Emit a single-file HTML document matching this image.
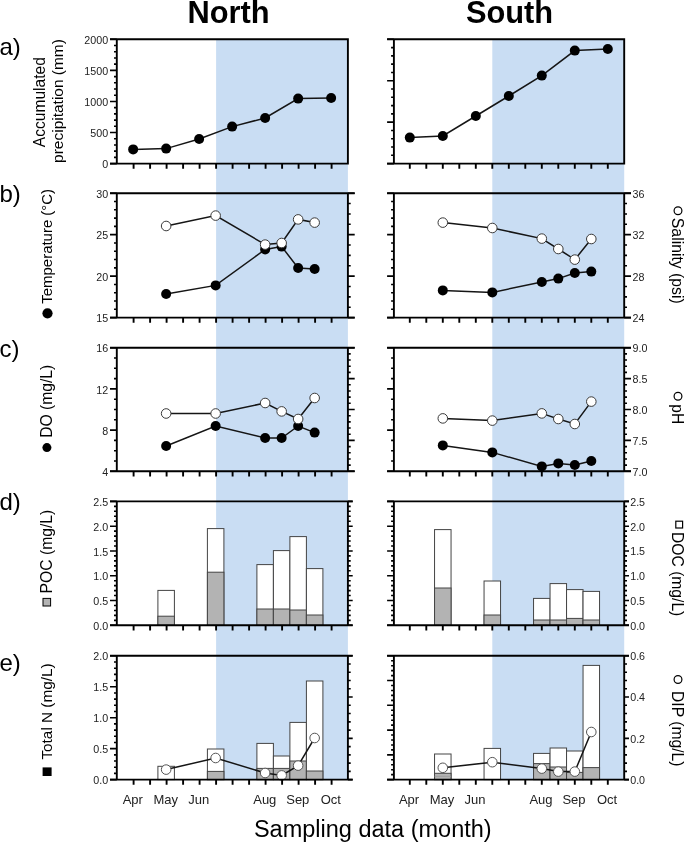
<!DOCTYPE html>
<html><head><meta charset="utf-8"><style>
html,body{margin:0;padding:0;background:#fff;}
svg{display:block;}
text{font-family:"Liberation Sans", sans-serif;}
svg{will-change:transform;}
.tl{font-size:10.7px;fill:#222;}
.ml{font-size:13px;fill:#222;}
.ti{font-size:30.8px;font-weight:bold;fill:#000;}
.pl{font-size:24px;fill:#000;}
.xt{font-size:23.5px;fill:#000;}
.at{font-size:15.3px;fill:#000;}
</style></head><body>
<svg width="685" height="844" viewBox="0 0 685 844">
<rect width="685" height="844" fill="#fff"/>
<rect x="216.1" y="39.3" width="131.8" height="740.3" fill="#c9ddf3"/>
<rect x="492.3" y="39.3" width="131.9" height="740.3" fill="#c9ddf3"/>
<path d="M116.8 39.3h-6.8M116.8 45.52h-2.8M116.8 51.73h-2.8M116.8 57.94h-2.8M116.8 64.16h-2.8M116.8 70.38h-6.8M116.8 76.59h-2.8M116.8 82.81h-2.8M116.8 89.02h-2.8M116.8 95.23h-2.8M116.8 101.45h-6.8M116.8 107.66h-2.8M116.8 113.88h-2.8M116.8 120.09h-2.8M116.8 126.31h-2.8M116.8 132.52h-6.8M116.8 138.74h-2.8M116.8 144.95h-2.8M116.8 151.17h-2.8M116.8 157.38h-2.8M116.8 163.6h-6.8" stroke="#000" stroke-width="1.6" fill="none"/>
<text x="108.1" y="43.9" text-anchor="end" class="tl">2000</text>
<text x="108.1" y="74.97" text-anchor="end" class="tl">1500</text>
<text x="108.1" y="106.05" text-anchor="end" class="tl">1000</text>
<text x="108.1" y="137.12" text-anchor="end" class="tl">500</text>
<text x="108.1" y="168.2" text-anchor="end" class="tl">0</text>
<path d="M110 39.3H347.9M110 163.6H347.9M116.8 38.35V164.55M347.9 38.35V164.55M133.6 163.6v5.2M150.1 163.6v5.2M166.6 163.6v5.2M183.1 163.6v5.2M199.6 163.6v5.2M216.1 163.6v5.2M232.6 163.6v5.2M249.1 163.6v5.2M265.6 163.6v5.2M282.1 163.6v5.2M298.6 163.6v5.2M315.1 163.6v5.2M331.6 163.6v5.2" stroke="#000" stroke-width="1.9" fill="none"/>
<path d="M393.9 39.3h-6.8M393.9 47.59h-2.8M393.9 55.87h-2.8M393.9 64.16h-2.8M393.9 72.45h-2.8M393.9 80.73h-6.8M393.9 89.02h-2.8M393.9 97.31h-2.8M393.9 105.59h-2.8M393.9 113.88h-2.8M393.9 122.17h-6.8M393.9 130.45h-2.8M393.9 138.74h-2.8M393.9 147.03h-2.8M393.9 155.31h-2.8M393.9 163.6h-6.8" stroke="#000" stroke-width="1.6" fill="none"/>
<path d="M387.1 39.3H624.2M387.1 163.6H624.2M393.9 38.35V164.55M624.2 38.35V164.55M409.8 163.6v5.2M426.3 163.6v5.2M442.8 163.6v5.2M459.3 163.6v5.2M475.8 163.6v5.2M492.3 163.6v5.2M508.8 163.6v5.2M525.3 163.6v5.2M541.8 163.6v5.2M558.3 163.6v5.2M574.8 163.6v5.2M591.3 163.6v5.2M607.8 163.6v5.2" stroke="#000" stroke-width="1.9" fill="none"/>
<polyline points="133.15,149.4 166.15,148.6 199.15,139 232.15,126.6 265.15,118 298.15,98.6 331.15,98" fill="none" stroke="#151515" stroke-width="1.5"/>
<circle cx="133.15" cy="149.4" r="5.0" fill="#000"/>
<circle cx="166.15" cy="148.6" r="5.0" fill="#000"/>
<circle cx="199.15" cy="139" r="5.0" fill="#000"/>
<circle cx="232.15" cy="126.6" r="5.0" fill="#000"/>
<circle cx="265.15" cy="118" r="5.0" fill="#000"/>
<circle cx="298.15" cy="98.6" r="5.0" fill="#000"/>
<circle cx="331.15" cy="98" r="5.0" fill="#000"/>
<polyline points="409.8,137.6 442.8,136 475.8,116 508.8,96 541.8,75.6 574.8,50.6 607.8,49" fill="none" stroke="#151515" stroke-width="1.5"/>
<circle cx="409.8" cy="137.6" r="5.0" fill="#000"/>
<circle cx="442.8" cy="136" r="5.0" fill="#000"/>
<circle cx="475.8" cy="116" r="5.0" fill="#000"/>
<circle cx="508.8" cy="96" r="5.0" fill="#000"/>
<circle cx="541.8" cy="75.6" r="5.0" fill="#000"/>
<circle cx="574.8" cy="50.6" r="5.0" fill="#000"/>
<circle cx="607.8" cy="49" r="5.0" fill="#000"/>
<path d="M116.8 193.2h-6.8M116.8 201.49h-2.8M116.8 209.79h-2.8M116.8 218.08h-2.8M116.8 226.37h-2.8M116.8 234.67h-6.8M116.8 242.96h-2.8M116.8 251.25h-2.8M116.8 259.55h-2.8M116.8 267.84h-2.8M116.8 276.13h-6.8M116.8 284.43h-2.8M116.8 292.72h-2.8M116.8 301.01h-2.8M116.8 309.31h-2.8M116.8 317.6h-6.8" stroke="#000" stroke-width="1.6" fill="none"/>
<text x="108.1" y="197.8" text-anchor="end" class="tl">30</text>
<text x="108.1" y="239.27" text-anchor="end" class="tl">25</text>
<text x="108.1" y="280.73" text-anchor="end" class="tl">20</text>
<text x="108.1" y="322.2" text-anchor="end" class="tl">15</text>
<path d="M347.9 193.2h6.8M347.9 203.57h2.8M347.9 213.93h2.8M347.9 224.3h2.8M347.9 234.67h6.8M347.9 245.03h2.8M347.9 255.4h2.8M347.9 265.77h2.8M347.9 276.13h6.8M347.9 286.5h2.8M347.9 296.87h2.8M347.9 307.23h2.8M347.9 317.6h6.8" stroke="#000" stroke-width="1.6" fill="none"/>
<path d="M110 193.2H354.7M110 317.6H354.7M116.8 192.25V318.55M347.9 192.25V318.55M133.6 317.6v5.2M150.1 317.6v5.2M166.6 317.6v5.2M183.1 317.6v5.2M199.6 317.6v5.2M216.1 317.6v5.2M232.6 317.6v5.2M249.1 317.6v5.2M265.6 317.6v5.2M282.1 317.6v5.2M298.6 317.6v5.2M315.1 317.6v5.2M331.6 317.6v5.2" stroke="#000" stroke-width="1.9" fill="none"/>
<path d="M393.9 193.2h-6.8M393.9 201.49h-2.8M393.9 209.79h-2.8M393.9 218.08h-2.8M393.9 226.37h-2.8M393.9 234.67h-6.8M393.9 242.96h-2.8M393.9 251.25h-2.8M393.9 259.55h-2.8M393.9 267.84h-2.8M393.9 276.13h-6.8M393.9 284.43h-2.8M393.9 292.72h-2.8M393.9 301.01h-2.8M393.9 309.31h-2.8M393.9 317.6h-6.8" stroke="#000" stroke-width="1.6" fill="none"/>
<path d="M624.2 193.2h6.8M624.2 203.57h2.8M624.2 213.93h2.8M624.2 224.3h2.8M624.2 234.67h6.8M624.2 245.03h2.8M624.2 255.4h2.8M624.2 265.77h2.8M624.2 276.13h6.8M624.2 286.5h2.8M624.2 296.87h2.8M624.2 307.23h2.8M624.2 317.6h6.8" stroke="#000" stroke-width="1.6" fill="none"/>
<text x="632.5" y="197.6" class="tl">36</text>
<text x="632.5" y="239.07" class="tl">32</text>
<text x="632.5" y="280.53" class="tl">28</text>
<text x="632.5" y="322" class="tl">24</text>
<path d="M387.1 193.2H631M387.1 317.6H631M393.9 192.25V318.55M624.2 192.25V318.55M409.8 317.6v5.2M426.3 317.6v5.2M442.8 317.6v5.2M459.3 317.6v5.2M475.8 317.6v5.2M492.3 317.6v5.2M508.8 317.6v5.2M525.3 317.6v5.2M541.8 317.6v5.2M558.3 317.6v5.2M574.8 317.6v5.2M591.3 317.6v5.2M607.8 317.6v5.2" stroke="#000" stroke-width="1.9" fill="none"/>
<polyline points="166.15,294 215.65,285.4 265.15,249.4 281.65,246.6 298.15,268 314.65,269" fill="none" stroke="#151515" stroke-width="1.5"/>
<polyline points="166.15,226 215.65,215.6 265.15,244.6 281.65,243 298.15,219.4 314.65,222.6" fill="none" stroke="#151515" stroke-width="1.5"/>
<circle cx="166.15" cy="294" r="5.0" fill="#000"/>
<circle cx="215.65" cy="285.4" r="5.0" fill="#000"/>
<circle cx="265.15" cy="249.4" r="5.0" fill="#000"/>
<circle cx="281.65" cy="246.6" r="5.0" fill="#000"/>
<circle cx="298.15" cy="268" r="5.0" fill="#000"/>
<circle cx="314.65" cy="269" r="5.0" fill="#000"/>
<circle cx="166.15" cy="226" r="4.8" fill="#fff" stroke="#3a3a3a" stroke-width="1"/>
<circle cx="215.65" cy="215.6" r="4.8" fill="#fff" stroke="#3a3a3a" stroke-width="1"/>
<circle cx="265.15" cy="244.6" r="4.8" fill="#fff" stroke="#3a3a3a" stroke-width="1"/>
<circle cx="281.65" cy="243" r="4.8" fill="#fff" stroke="#3a3a3a" stroke-width="1"/>
<circle cx="298.15" cy="219.4" r="4.8" fill="#fff" stroke="#3a3a3a" stroke-width="1"/>
<circle cx="314.65" cy="222.6" r="4.8" fill="#fff" stroke="#3a3a3a" stroke-width="1"/>
<polyline points="442.8,290.4 492.3,292.4 541.8,282 558.3,278.6 574.8,273 591.3,271.6" fill="none" stroke="#151515" stroke-width="1.5"/>
<polyline points="442.8,222.6 492.3,228 541.8,238.6 558.3,249 574.8,259.6 591.3,239" fill="none" stroke="#151515" stroke-width="1.5"/>
<circle cx="442.8" cy="290.4" r="5.0" fill="#000"/>
<circle cx="492.3" cy="292.4" r="5.0" fill="#000"/>
<circle cx="541.8" cy="282" r="5.0" fill="#000"/>
<circle cx="558.3" cy="278.6" r="5.0" fill="#000"/>
<circle cx="574.8" cy="273" r="5.0" fill="#000"/>
<circle cx="591.3" cy="271.6" r="5.0" fill="#000"/>
<circle cx="442.8" cy="222.6" r="4.8" fill="#fff" stroke="#3a3a3a" stroke-width="1"/>
<circle cx="492.3" cy="228" r="4.8" fill="#fff" stroke="#3a3a3a" stroke-width="1"/>
<circle cx="541.8" cy="238.6" r="4.8" fill="#fff" stroke="#3a3a3a" stroke-width="1"/>
<circle cx="558.3" cy="249" r="4.8" fill="#fff" stroke="#3a3a3a" stroke-width="1"/>
<circle cx="574.8" cy="259.6" r="4.8" fill="#fff" stroke="#3a3a3a" stroke-width="1"/>
<circle cx="591.3" cy="239" r="4.8" fill="#fff" stroke="#3a3a3a" stroke-width="1"/>
<path d="M116.8 347.7h-6.8M116.8 358h-2.8M116.8 368.3h-2.8M116.8 378.6h-2.8M116.8 388.9h-6.8M116.8 399.2h-2.8M116.8 409.5h-2.8M116.8 419.8h-2.8M116.8 430.1h-6.8M116.8 440.4h-2.8M116.8 450.7h-2.8M116.8 461h-2.8M116.8 471.3h-6.8" stroke="#000" stroke-width="1.6" fill="none"/>
<text x="108.1" y="352.3" text-anchor="end" class="tl">16</text>
<text x="108.1" y="393.5" text-anchor="end" class="tl">12</text>
<text x="108.1" y="434.7" text-anchor="end" class="tl">8</text>
<text x="108.1" y="475.9" text-anchor="end" class="tl">4</text>
<path d="M347.9 347.7h6.8M347.9 353.88h2.8M347.9 360.06h2.8M347.9 366.24h2.8M347.9 372.42h2.8M347.9 378.6h6.8M347.9 384.78h2.8M347.9 390.96h2.8M347.9 397.14h2.8M347.9 403.32h2.8M347.9 409.5h6.8M347.9 415.68h2.8M347.9 421.86h2.8M347.9 428.04h2.8M347.9 434.22h2.8M347.9 440.4h6.8M347.9 446.58h2.8M347.9 452.76h2.8M347.9 458.94h2.8M347.9 465.12h2.8M347.9 471.3h6.8" stroke="#000" stroke-width="1.6" fill="none"/>
<path d="M110 347.7H354.7M110 471.3H354.7M116.8 346.75V472.25M347.9 346.75V472.25M133.6 471.3v5.2M150.1 471.3v5.2M166.6 471.3v5.2M183.1 471.3v5.2M199.6 471.3v5.2M216.1 471.3v5.2M232.6 471.3v5.2M249.1 471.3v5.2M265.6 471.3v5.2M282.1 471.3v5.2M298.6 471.3v5.2M315.1 471.3v5.2M331.6 471.3v5.2" stroke="#000" stroke-width="1.9" fill="none"/>
<path d="M393.9 347.7h-6.8M393.9 358h-2.8M393.9 368.3h-2.8M393.9 378.6h-2.8M393.9 388.9h-6.8M393.9 399.2h-2.8M393.9 409.5h-2.8M393.9 419.8h-2.8M393.9 430.1h-6.8M393.9 440.4h-2.8M393.9 450.7h-2.8M393.9 461h-2.8M393.9 471.3h-6.8" stroke="#000" stroke-width="1.6" fill="none"/>
<path d="M624.2 347.7h6.8M624.2 353.88h2.8M624.2 360.06h2.8M624.2 366.24h2.8M624.2 372.42h2.8M624.2 378.6h6.8M624.2 384.78h2.8M624.2 390.96h2.8M624.2 397.14h2.8M624.2 403.32h2.8M624.2 409.5h6.8M624.2 415.68h2.8M624.2 421.86h2.8M624.2 428.04h2.8M624.2 434.22h2.8M624.2 440.4h6.8M624.2 446.58h2.8M624.2 452.76h2.8M624.2 458.94h2.8M624.2 465.12h2.8M624.2 471.3h6.8" stroke="#000" stroke-width="1.6" fill="none"/>
<text x="632.5" y="352.1" class="tl">9.0</text>
<text x="632.5" y="383" class="tl">8.5</text>
<text x="632.5" y="413.9" class="tl">8.0</text>
<text x="632.5" y="444.8" class="tl">7.5</text>
<text x="632.5" y="475.7" class="tl">7.0</text>
<path d="M387.1 347.7H631M387.1 471.3H631M393.9 346.75V472.25M624.2 346.75V472.25M409.8 471.3v5.2M426.3 471.3v5.2M442.8 471.3v5.2M459.3 471.3v5.2M475.8 471.3v5.2M492.3 471.3v5.2M508.8 471.3v5.2M525.3 471.3v5.2M541.8 471.3v5.2M558.3 471.3v5.2M574.8 471.3v5.2M591.3 471.3v5.2M607.8 471.3v5.2" stroke="#000" stroke-width="1.9" fill="none"/>
<polyline points="166.15,446 215.65,426 265.15,438 281.65,438 298.15,426 314.65,432.6" fill="none" stroke="#151515" stroke-width="1.5"/>
<polyline points="166.15,413.5 215.65,413.5 265.15,403 281.65,411.4 298.15,419 314.65,398" fill="none" stroke="#151515" stroke-width="1.5"/>
<circle cx="166.15" cy="446" r="5.0" fill="#000"/>
<circle cx="215.65" cy="426" r="5.0" fill="#000"/>
<circle cx="265.15" cy="438" r="5.0" fill="#000"/>
<circle cx="281.65" cy="438" r="5.0" fill="#000"/>
<circle cx="298.15" cy="426" r="5.0" fill="#000"/>
<circle cx="314.65" cy="432.6" r="5.0" fill="#000"/>
<circle cx="166.15" cy="413.5" r="4.8" fill="#fff" stroke="#3a3a3a" stroke-width="1"/>
<circle cx="215.65" cy="413.5" r="4.8" fill="#fff" stroke="#3a3a3a" stroke-width="1"/>
<circle cx="265.15" cy="403" r="4.8" fill="#fff" stroke="#3a3a3a" stroke-width="1"/>
<circle cx="281.65" cy="411.4" r="4.8" fill="#fff" stroke="#3a3a3a" stroke-width="1"/>
<circle cx="298.15" cy="419" r="4.8" fill="#fff" stroke="#3a3a3a" stroke-width="1"/>
<circle cx="314.65" cy="398" r="4.8" fill="#fff" stroke="#3a3a3a" stroke-width="1"/>
<polyline points="442.8,445.4 492.3,452.4 541.8,466.4 558.3,463.4 574.8,465 591.3,461" fill="none" stroke="#151515" stroke-width="1.5"/>
<polyline points="442.8,418.4 492.3,420.6 541.8,413.4 558.3,419 574.8,424 591.3,401.6" fill="none" stroke="#151515" stroke-width="1.5"/>
<circle cx="442.8" cy="445.4" r="5.0" fill="#000"/>
<circle cx="492.3" cy="452.4" r="5.0" fill="#000"/>
<circle cx="541.8" cy="466.4" r="5.0" fill="#000"/>
<circle cx="558.3" cy="463.4" r="5.0" fill="#000"/>
<circle cx="574.8" cy="465" r="5.0" fill="#000"/>
<circle cx="591.3" cy="461" r="5.0" fill="#000"/>
<circle cx="442.8" cy="418.4" r="4.8" fill="#fff" stroke="#3a3a3a" stroke-width="1"/>
<circle cx="492.3" cy="420.6" r="4.8" fill="#fff" stroke="#3a3a3a" stroke-width="1"/>
<circle cx="541.8" cy="413.4" r="4.8" fill="#fff" stroke="#3a3a3a" stroke-width="1"/>
<circle cx="558.3" cy="419" r="4.8" fill="#fff" stroke="#3a3a3a" stroke-width="1"/>
<circle cx="574.8" cy="424" r="4.8" fill="#fff" stroke="#3a3a3a" stroke-width="1"/>
<circle cx="591.3" cy="401.6" r="4.8" fill="#fff" stroke="#3a3a3a" stroke-width="1"/>
<rect x="157.9" y="590.4" width="16.5" height="34.9" fill="#fff" stroke="#444" stroke-width="1"/>
<rect x="157.9" y="616.2" width="16.5" height="9.1" fill="#b3b3b3" stroke="#444" stroke-width="1"/>
<rect x="207.4" y="528.6" width="16.5" height="96.7" fill="#fff" stroke="#444" stroke-width="1"/>
<rect x="207.4" y="572.2" width="16.5" height="53.1" fill="#b3b3b3" stroke="#444" stroke-width="1"/>
<rect x="256.9" y="564.6" width="16.5" height="60.7" fill="#fff" stroke="#444" stroke-width="1"/>
<rect x="256.9" y="609" width="16.5" height="16.3" fill="#b3b3b3" stroke="#444" stroke-width="1"/>
<rect x="273.4" y="550.6" width="16.5" height="74.7" fill="#fff" stroke="#444" stroke-width="1"/>
<rect x="273.4" y="609" width="16.5" height="16.3" fill="#b3b3b3" stroke="#444" stroke-width="1"/>
<rect x="289.9" y="536.6" width="16.5" height="88.7" fill="#fff" stroke="#444" stroke-width="1"/>
<rect x="289.9" y="610" width="16.5" height="15.3" fill="#b3b3b3" stroke="#444" stroke-width="1"/>
<rect x="306.4" y="568.6" width="16.5" height="56.7" fill="#fff" stroke="#444" stroke-width="1"/>
<rect x="306.4" y="615" width="16.5" height="10.3" fill="#b3b3b3" stroke="#444" stroke-width="1"/>
<rect x="434.55" y="529.6" width="16.5" height="95.7" fill="#fff" stroke="#444" stroke-width="1"/>
<rect x="434.55" y="588" width="16.5" height="37.3" fill="#b3b3b3" stroke="#444" stroke-width="1"/>
<rect x="484.05" y="581" width="16.5" height="44.3" fill="#fff" stroke="#444" stroke-width="1"/>
<rect x="484.05" y="615" width="16.5" height="10.3" fill="#b3b3b3" stroke="#444" stroke-width="1"/>
<rect x="533.55" y="598.4" width="16.5" height="26.9" fill="#fff" stroke="#444" stroke-width="1"/>
<rect x="533.55" y="620" width="16.5" height="5.3" fill="#b3b3b3" stroke="#444" stroke-width="1"/>
<rect x="550.05" y="583.6" width="16.5" height="41.7" fill="#fff" stroke="#444" stroke-width="1"/>
<rect x="550.05" y="620" width="16.5" height="5.3" fill="#b3b3b3" stroke="#444" stroke-width="1"/>
<rect x="566.55" y="589.6" width="16.5" height="35.7" fill="#fff" stroke="#444" stroke-width="1"/>
<rect x="566.55" y="618.4" width="16.5" height="6.9" fill="#b3b3b3" stroke="#444" stroke-width="1"/>
<rect x="583.05" y="591.4" width="16.5" height="33.9" fill="#fff" stroke="#444" stroke-width="1"/>
<rect x="583.05" y="620" width="16.5" height="5.3" fill="#b3b3b3" stroke="#444" stroke-width="1"/>
<path d="M116.8 501.4h-6.8M116.8 506.36h-2.8M116.8 511.31h-2.8M116.8 516.27h-2.8M116.8 521.22h-2.8M116.8 526.18h-6.8M116.8 531.14h-2.8M116.8 536.09h-2.8M116.8 541.05h-2.8M116.8 546h-2.8M116.8 550.96h-6.8M116.8 555.92h-2.8M116.8 560.87h-2.8M116.8 565.83h-2.8M116.8 570.78h-2.8M116.8 575.74h-6.8M116.8 580.7h-2.8M116.8 585.65h-2.8M116.8 590.61h-2.8M116.8 595.56h-2.8M116.8 600.52h-6.8M116.8 605.48h-2.8M116.8 610.43h-2.8M116.8 615.39h-2.8M116.8 620.34h-2.8M116.8 625.3h-6.8" stroke="#000" stroke-width="1.6" fill="none"/>
<text x="108.1" y="506" text-anchor="end" class="tl">2.5</text>
<text x="108.1" y="530.78" text-anchor="end" class="tl">2.0</text>
<text x="108.1" y="555.56" text-anchor="end" class="tl">1.5</text>
<text x="108.1" y="580.34" text-anchor="end" class="tl">1.0</text>
<text x="108.1" y="605.12" text-anchor="end" class="tl">0.5</text>
<text x="108.1" y="629.9" text-anchor="end" class="tl">0.0</text>
<path d="M347.9 501.4h4.8M347.9 506.36h2.8M347.9 511.31h2.8M347.9 516.27h2.8M347.9 521.22h2.8M347.9 526.18h4.8M347.9 531.14h2.8M347.9 536.09h2.8M347.9 541.05h2.8M347.9 546h2.8M347.9 550.96h4.8M347.9 555.92h2.8M347.9 560.87h2.8M347.9 565.83h2.8M347.9 570.78h2.8M347.9 575.74h4.8M347.9 580.7h2.8M347.9 585.65h2.8M347.9 590.61h2.8M347.9 595.56h2.8M347.9 600.52h4.8M347.9 605.48h2.8M347.9 610.43h2.8M347.9 615.39h2.8M347.9 620.34h2.8M347.9 625.3h4.8" stroke="#000" stroke-width="1.6" fill="none"/>
<path d="M110 501.4H352.7M110 625.3H352.7M116.8 500.45V626.25M347.9 500.45V626.25M133.6 625.3v5.2M150.1 625.3v5.2M166.6 625.3v5.2M183.1 625.3v5.2M199.6 625.3v5.2M216.1 625.3v5.2M232.6 625.3v5.2M249.1 625.3v5.2M265.6 625.3v5.2M282.1 625.3v5.2M298.6 625.3v5.2M315.1 625.3v5.2M331.6 625.3v5.2" stroke="#000" stroke-width="1.9" fill="none"/>
<path d="M393.9 501.4h-6.8M393.9 506.36h-2.8M393.9 511.31h-2.8M393.9 516.27h-2.8M393.9 521.22h-2.8M393.9 526.18h-6.8M393.9 531.14h-2.8M393.9 536.09h-2.8M393.9 541.05h-2.8M393.9 546h-2.8M393.9 550.96h-6.8M393.9 555.92h-2.8M393.9 560.87h-2.8M393.9 565.83h-2.8M393.9 570.78h-2.8M393.9 575.74h-6.8M393.9 580.7h-2.8M393.9 585.65h-2.8M393.9 590.61h-2.8M393.9 595.56h-2.8M393.9 600.52h-6.8M393.9 605.48h-2.8M393.9 610.43h-2.8M393.9 615.39h-2.8M393.9 620.34h-2.8M393.9 625.3h-6.8" stroke="#000" stroke-width="1.6" fill="none"/>
<path d="M624.2 501.4h4.8M624.2 506.36h2.8M624.2 511.31h2.8M624.2 516.27h2.8M624.2 521.22h2.8M624.2 526.18h4.8M624.2 531.14h2.8M624.2 536.09h2.8M624.2 541.05h2.8M624.2 546h2.8M624.2 550.96h4.8M624.2 555.92h2.8M624.2 560.87h2.8M624.2 565.83h2.8M624.2 570.78h2.8M624.2 575.74h4.8M624.2 580.7h2.8M624.2 585.65h2.8M624.2 590.61h2.8M624.2 595.56h2.8M624.2 600.52h4.8M624.2 605.48h2.8M624.2 610.43h2.8M624.2 615.39h2.8M624.2 620.34h2.8M624.2 625.3h4.8" stroke="#000" stroke-width="1.6" fill="none"/>
<text x="630.2" y="505.8" class="tl">2.5</text>
<text x="630.2" y="530.58" class="tl">2.0</text>
<text x="630.2" y="555.36" class="tl">1.5</text>
<text x="630.2" y="580.14" class="tl">1.0</text>
<text x="630.2" y="604.92" class="tl">0.5</text>
<text x="630.2" y="629.7" class="tl">0.0</text>
<path d="M387.1 501.4H629M387.1 625.3H629M393.9 500.45V626.25M624.2 500.45V626.25M409.8 625.3v5.2M426.3 625.3v5.2M442.8 625.3v5.2M459.3 625.3v5.2M475.8 625.3v5.2M492.3 625.3v5.2M508.8 625.3v5.2M525.3 625.3v5.2M541.8 625.3v5.2M558.3 625.3v5.2M574.8 625.3v5.2M591.3 625.3v5.2M607.8 625.3v5.2" stroke="#000" stroke-width="1.9" fill="none"/>
<rect x="157.9" y="766.3" width="16.5" height="13.3" fill="#fff" stroke="#444" stroke-width="1"/>
<rect x="207.4" y="749" width="16.5" height="30.6" fill="#fff" stroke="#444" stroke-width="1"/>
<rect x="207.4" y="771.4" width="16.5" height="8.2" fill="#b3b3b3" stroke="#444" stroke-width="1"/>
<rect x="256.9" y="743.4" width="16.5" height="36.2" fill="#fff" stroke="#444" stroke-width="1"/>
<rect x="256.9" y="768.4" width="16.5" height="11.2" fill="#b3b3b3" stroke="#444" stroke-width="1"/>
<rect x="273.4" y="756" width="16.5" height="23.6" fill="#fff" stroke="#444" stroke-width="1"/>
<rect x="273.4" y="768.4" width="16.5" height="11.2" fill="#b3b3b3" stroke="#444" stroke-width="1"/>
<rect x="289.9" y="722.4" width="16.5" height="57.2" fill="#fff" stroke="#444" stroke-width="1"/>
<rect x="289.9" y="761" width="16.5" height="18.6" fill="#b3b3b3" stroke="#444" stroke-width="1"/>
<rect x="306.4" y="681" width="16.5" height="98.6" fill="#fff" stroke="#444" stroke-width="1"/>
<rect x="306.4" y="771" width="16.5" height="8.6" fill="#b3b3b3" stroke="#444" stroke-width="1"/>
<polyline points="166.15,769.6 215.65,758 265.15,773 281.65,775.4 298.15,765.6 314.65,738" fill="none" stroke="#151515" stroke-width="1.5"/>
<circle cx="166.15" cy="769.6" r="4.8" fill="#fff" stroke="#555" stroke-width="1"/>
<circle cx="215.65" cy="758" r="4.8" fill="#fff" stroke="#555" stroke-width="1"/>
<circle cx="265.15" cy="773" r="4.8" fill="#fff" stroke="#555" stroke-width="1"/>
<circle cx="281.65" cy="775.4" r="4.8" fill="#fff" stroke="#555" stroke-width="1"/>
<circle cx="298.15" cy="765.6" r="4.8" fill="#fff" stroke="#555" stroke-width="1"/>
<circle cx="314.65" cy="738" r="4.8" fill="#fff" stroke="#555" stroke-width="1"/>
<rect x="434.55" y="754" width="16.5" height="25.6" fill="#fff" stroke="#444" stroke-width="1"/>
<rect x="434.55" y="773.3" width="16.5" height="6.3" fill="#b3b3b3" stroke="#444" stroke-width="1"/>
<rect x="484.05" y="748.4" width="16.5" height="31.2" fill="#fff" stroke="#444" stroke-width="1"/>
<rect x="533.55" y="753.4" width="16.5" height="26.2" fill="#fff" stroke="#444" stroke-width="1"/>
<rect x="533.55" y="763.6" width="16.5" height="16" fill="#b3b3b3" stroke="#444" stroke-width="1"/>
<rect x="550.05" y="748" width="16.5" height="31.6" fill="#fff" stroke="#444" stroke-width="1"/>
<rect x="550.05" y="767" width="16.5" height="12.6" fill="#b3b3b3" stroke="#444" stroke-width="1"/>
<rect x="566.55" y="751" width="16.5" height="28.6" fill="#fff" stroke="#444" stroke-width="1"/>
<rect x="566.55" y="772.4" width="16.5" height="7.2" fill="#b3b3b3" stroke="#444" stroke-width="1"/>
<rect x="583.05" y="665.4" width="16.5" height="114.2" fill="#fff" stroke="#444" stroke-width="1"/>
<rect x="583.05" y="767.6" width="16.5" height="12" fill="#b3b3b3" stroke="#444" stroke-width="1"/>
<line x1="434.55" x2="451.05" y1="776.3" y2="776.3" stroke="#999" stroke-width="0.8"/>
<polyline points="442.8,767.8 492.3,762.2 541.8,768.6 558.3,771.6 574.8,771.6 591.3,732" fill="none" stroke="#151515" stroke-width="1.5"/>
<circle cx="442.8" cy="767.8" r="4.8" fill="#fff" stroke="#555" stroke-width="1"/>
<circle cx="492.3" cy="762.2" r="4.8" fill="#fff" stroke="#555" stroke-width="1"/>
<circle cx="541.8" cy="768.6" r="4.8" fill="#fff" stroke="#555" stroke-width="1"/>
<circle cx="558.3" cy="771.6" r="4.8" fill="#fff" stroke="#555" stroke-width="1"/>
<circle cx="574.8" cy="771.6" r="4.8" fill="#fff" stroke="#555" stroke-width="1"/>
<circle cx="591.3" cy="732" r="4.8" fill="#fff" stroke="#555" stroke-width="1"/>
<path d="M116.8 655.8h-6.8M116.8 661.99h-2.8M116.8 668.18h-2.8M116.8 674.37h-2.8M116.8 680.56h-2.8M116.8 686.75h-6.8M116.8 692.94h-2.8M116.8 699.13h-2.8M116.8 705.32h-2.8M116.8 711.51h-2.8M116.8 717.7h-6.8M116.8 723.89h-2.8M116.8 730.08h-2.8M116.8 736.27h-2.8M116.8 742.46h-2.8M116.8 748.65h-6.8M116.8 754.84h-2.8M116.8 761.03h-2.8M116.8 767.22h-2.8M116.8 773.41h-2.8M116.8 779.6h-6.8" stroke="#000" stroke-width="1.6" fill="none"/>
<text x="108.1" y="660.4" text-anchor="end" class="tl">2.0</text>
<text x="108.1" y="691.35" text-anchor="end" class="tl">1.5</text>
<text x="108.1" y="722.3" text-anchor="end" class="tl">1.0</text>
<text x="108.1" y="753.25" text-anchor="end" class="tl">0.5</text>
<text x="108.1" y="784.2" text-anchor="end" class="tl">0.0</text>
<path d="M347.9 655.8h4.8M347.9 664.05h2.8M347.9 672.31h2.8M347.9 680.56h2.8M347.9 688.81h2.8M347.9 697.07h4.8M347.9 705.32h2.8M347.9 713.57h2.8M347.9 721.83h2.8M347.9 730.08h2.8M347.9 738.33h4.8M347.9 746.59h2.8M347.9 754.84h2.8M347.9 763.09h2.8M347.9 771.35h2.8M347.9 779.6h4.8" stroke="#000" stroke-width="1.6" fill="none"/>
<path d="M110 655.8H352.7M110 779.6H352.7M116.8 654.85V780.55M347.9 654.85V780.55M133.6 779.6v5.2M150.1 779.6v5.2M166.6 779.6v5.2M183.1 779.6v5.2M199.6 779.6v5.2M216.1 779.6v5.2M232.6 779.6v5.2M249.1 779.6v5.2M265.6 779.6v5.2M282.1 779.6v5.2M298.6 779.6v5.2M315.1 779.6v5.2M331.6 779.6v5.2" stroke="#000" stroke-width="1.9" fill="none"/>
<path d="M393.9 655.8h-6.8M393.9 660.75h-2.8M393.9 665.7h-2.8M393.9 670.66h-2.8M393.9 675.61h-2.8M393.9 680.56h-6.8M393.9 685.51h-2.8M393.9 690.46h-2.8M393.9 695.42h-2.8M393.9 700.37h-2.8M393.9 705.32h-6.8M393.9 710.27h-2.8M393.9 715.22h-2.8M393.9 720.18h-2.8M393.9 725.13h-2.8M393.9 730.08h-6.8M393.9 735.03h-2.8M393.9 739.98h-2.8M393.9 744.94h-2.8M393.9 749.89h-2.8M393.9 754.84h-6.8M393.9 759.79h-2.8M393.9 764.74h-2.8M393.9 769.7h-2.8M393.9 774.65h-2.8M393.9 779.6h-6.8" stroke="#000" stroke-width="1.6" fill="none"/>
<path d="M624.2 655.8h4.8M624.2 664.05h2.8M624.2 672.31h2.8M624.2 680.56h2.8M624.2 688.81h2.8M624.2 697.07h4.8M624.2 705.32h2.8M624.2 713.57h2.8M624.2 721.83h2.8M624.2 730.08h2.8M624.2 738.33h4.8M624.2 746.59h2.8M624.2 754.84h2.8M624.2 763.09h2.8M624.2 771.35h2.8M624.2 779.6h4.8" stroke="#000" stroke-width="1.6" fill="none"/>
<text x="630.2" y="660.2" class="tl">0.6</text>
<text x="630.2" y="701.47" class="tl">0.4</text>
<text x="630.2" y="742.73" class="tl">0.2</text>
<text x="630.2" y="784" class="tl">0.0</text>
<path d="M387.1 655.8H629M387.1 779.6H629M393.9 654.85V780.55M624.2 654.85V780.55M409.8 779.6v5.2M426.3 779.6v5.2M442.8 779.6v5.2M459.3 779.6v5.2M475.8 779.6v5.2M492.3 779.6v5.2M508.8 779.6v5.2M525.3 779.6v5.2M541.8 779.6v5.2M558.3 779.6v5.2M574.8 779.6v5.2M591.3 779.6v5.2M607.8 779.6v5.2" stroke="#000" stroke-width="1.9" fill="none"/>
<text x="132.8" y="803.8" text-anchor="middle" class="ml">Apr</text>
<text x="165.8" y="803.8" text-anchor="middle" class="ml">May</text>
<text x="198.8" y="803.8" text-anchor="middle" class="ml">Jun</text>
<text x="264.8" y="803.8" text-anchor="middle" class="ml">Aug</text>
<text x="297.8" y="803.8" text-anchor="middle" class="ml">Sep</text>
<text x="330.8" y="803.8" text-anchor="middle" class="ml">Oct</text>
<text x="409" y="803.8" text-anchor="middle" class="ml">Apr</text>
<text x="442" y="803.8" text-anchor="middle" class="ml">May</text>
<text x="475" y="803.8" text-anchor="middle" class="ml">Jun</text>
<text x="541" y="803.8" text-anchor="middle" class="ml">Aug</text>
<text x="574" y="803.8" text-anchor="middle" class="ml">Sep</text>
<text x="607" y="803.8" text-anchor="middle" class="ml">Oct</text>
<text x="228.5" y="23.4" text-anchor="middle" class="ti">North</text>
<text x="509.5" y="23.4" text-anchor="middle" class="ti">South</text>
<text x="-0.5" y="55.4" class="pl">a)</text>
<text x="-0.5" y="202.3" class="pl">b)</text>
<text x="-0.5" y="357.2" class="pl">c)</text>
<text x="-0.5" y="510.3" class="pl">d)</text>
<text x="-0.5" y="671" class="pl">e)</text>
<text x="372.8" y="837.4" text-anchor="middle" class="xt">Sampling data (month)</text>
<text transform="translate(44.6,102.2) rotate(-90)" text-anchor="middle" class="at" style="font-size:15.58px">Accumulated</text>
<text transform="translate(63.3,101) rotate(-90)" text-anchor="middle" class="at" style="font-size:15.48px">precipitation (mm)</text>
<text transform="translate(52.4,246.3) rotate(-90)" text-anchor="middle" class="at" style="font-size:14.95px">Temperature (°C)</text>
<circle cx="47.5" cy="313.3" r="5.1" fill="#000"/>
<text transform="translate(52.4,401.3) rotate(-90)" text-anchor="middle" class="at" style="font-size:15.67px">DO (mg/L)</text>
<circle cx="46.9" cy="447.6" r="4.5" fill="#000"/>
<text transform="translate(52.4,551.6) rotate(-90)" text-anchor="middle" class="at" style="font-size:15.69px">POC (mg/L)</text>
<rect x="43" y="598.4" width="7.6" height="7.6" fill="#b3b3b3" stroke="#000" stroke-width="1"/>
<text transform="translate(52.4,711.5) rotate(-90)" text-anchor="middle" class="at" style="font-size:15.3px">Total N (mg/L)</text>
<rect x="42.6" y="767.4" width="9" height="8.6" fill="#000"/>
<text transform="translate(672.4,260.8) rotate(90)" text-anchor="middle" class="at" style="font-size:15.79px">Salinity (psi)</text>
<circle cx="678" cy="210.7" r="3.9" fill="none" stroke="#000" stroke-width="1.2"/>
<text transform="translate(672.4,414.3) rotate(90)" text-anchor="middle" class="at" style="font-size:15.6px">pH</text>
<circle cx="678" cy="396.3" r="3.9" fill="none" stroke="#000" stroke-width="1.2"/>
<text transform="translate(672.4,574.2) rotate(90)" text-anchor="middle" class="at" style="font-size:15.64px">DOC (mg/L)</text>
<rect x="675.8" y="521.2" width="6.8" height="6.8" fill="none" stroke="#000" stroke-width="1.2"/>
<text transform="translate(672.4,728.7) rotate(90)" text-anchor="middle" class="at" style="font-size:15.68px">DIP (mg/L)</text>
<circle cx="678" cy="679.5" r="3.9" fill="none" stroke="#000" stroke-width="1.2"/>
</svg>
</body></html>
